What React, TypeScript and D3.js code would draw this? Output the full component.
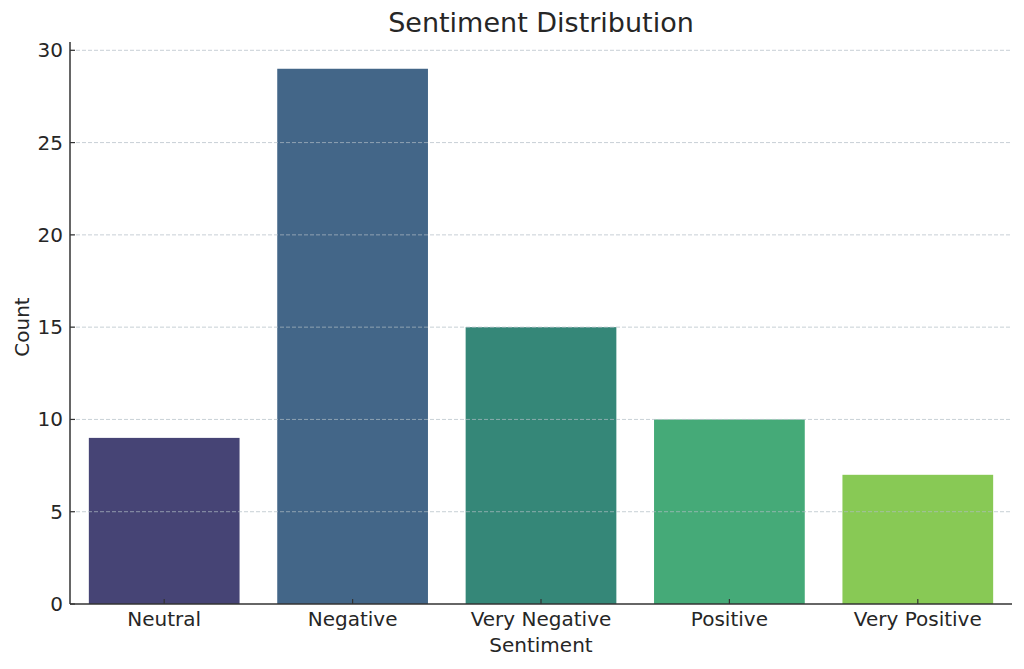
import React from "react";
import * as d3 from "d3";

const categories: string[] = ["Neutral", "Negative", "Very Negative", "Positive", "Very Positive"];
const counts: number[] = [9, 29, 15, 10, 7];
const barColors: string[] = ["#464475", "#436688", "#358778", "#45aa78", "#88c955"];
const yTicks: number[] = [0, 5, 10, 15, 20, 25, 30];

const W = 1024;
const H = 669;
const left = 70;
const right = 1012;
const top = 42;
const bottom = 604;
const textColor = "#262626";
const font = "DejaVu Sans, sans-serif";

export default function App() {
  const x = d3.scaleBand<string>().domain(categories).range([left, right]).paddingInner(0.2).paddingOuter(0.1);
  const y = d3.scaleLinear().domain([0, 30.45]).range([bottom, top]);

  return (
    <div style={{ position: "fixed", left: 0, top: 0, width: W, height: H, background: "#fff" }}>
      <svg width={W} height={H} style={{ display: "block" }}>
        <rect x={0} y={0} width={W} height={H} fill="#fff" />
        {categories.map((c, i) => (
          <rect
            key={c}
            x={x(c)!}
            y={y(counts[i])}
            width={x.bandwidth()}
            height={y(0) - y(counts[i])}
            fill={barColors[i]}
          />
        ))}
        {yTicks.slice(1).map((t) => (
          <line
            key={"g" + t}
            x1={left}
            x2={right}
            y1={y(t)}
            y2={y(t)}
            stroke="#b0bcc4"
            strokeOpacity={0.7}
            strokeWidth={1}
            strokeDasharray="4,2"
          />
        ))}
        {/* spines */}
        <line x1={left} x2={left} y1={top} y2={bottom} stroke="#333" strokeWidth={1.5} />
        <line x1={left} x2={right} y1={bottom} y2={bottom} stroke="#333" strokeWidth={1.5} />
        {yTicks.map((t) => (
          <g key={"yt" + t}>
            <line x1={left} x2={left + 5} y1={y(t)} y2={y(t)} stroke="#333" strokeWidth={1.2} />
            <text
              x={left - 7}
              y={y(t)}
              textAnchor="end"
              dominantBaseline="central"
              fontFamily={font}
              fontSize={20}
              fill={textColor}
            >
              {t}
            </text>
          </g>
        ))}
        {categories.map((c) => {
          const cx = x(c)! + x.bandwidth() / 2;
          return (
            <g key={"xt" + c}>
              <line x1={cx} x2={cx} y1={bottom} y2={bottom - 5} stroke="#333" strokeWidth={1.2} />
              <text
                x={cx}
                y={bottom + 22}
                textAnchor="middle"
                fontFamily={font}
                fontSize={20}
                fill={textColor}
              >
                {c}
              </text>
            </g>
          );
        })}
        <text x={(left + right) / 2} y={652} textAnchor="middle" fontFamily={font} fontSize={20} fill={textColor}>
          Sentiment
        </text>
        <text
          transform={`translate(29, ${(top + bottom) / 2 + 4}) rotate(-90)`}
          textAnchor="middle"
          fontFamily={font}
          fontSize={20}
          fill={textColor}
        >
          Count
        </text>
        <text x={(left + right) / 2} y={32} textAnchor="middle" fontFamily={font} fontSize={27} fill={textColor}>
          Sentiment Distribution
        </text>
      </svg>
    </div>
  );
}
